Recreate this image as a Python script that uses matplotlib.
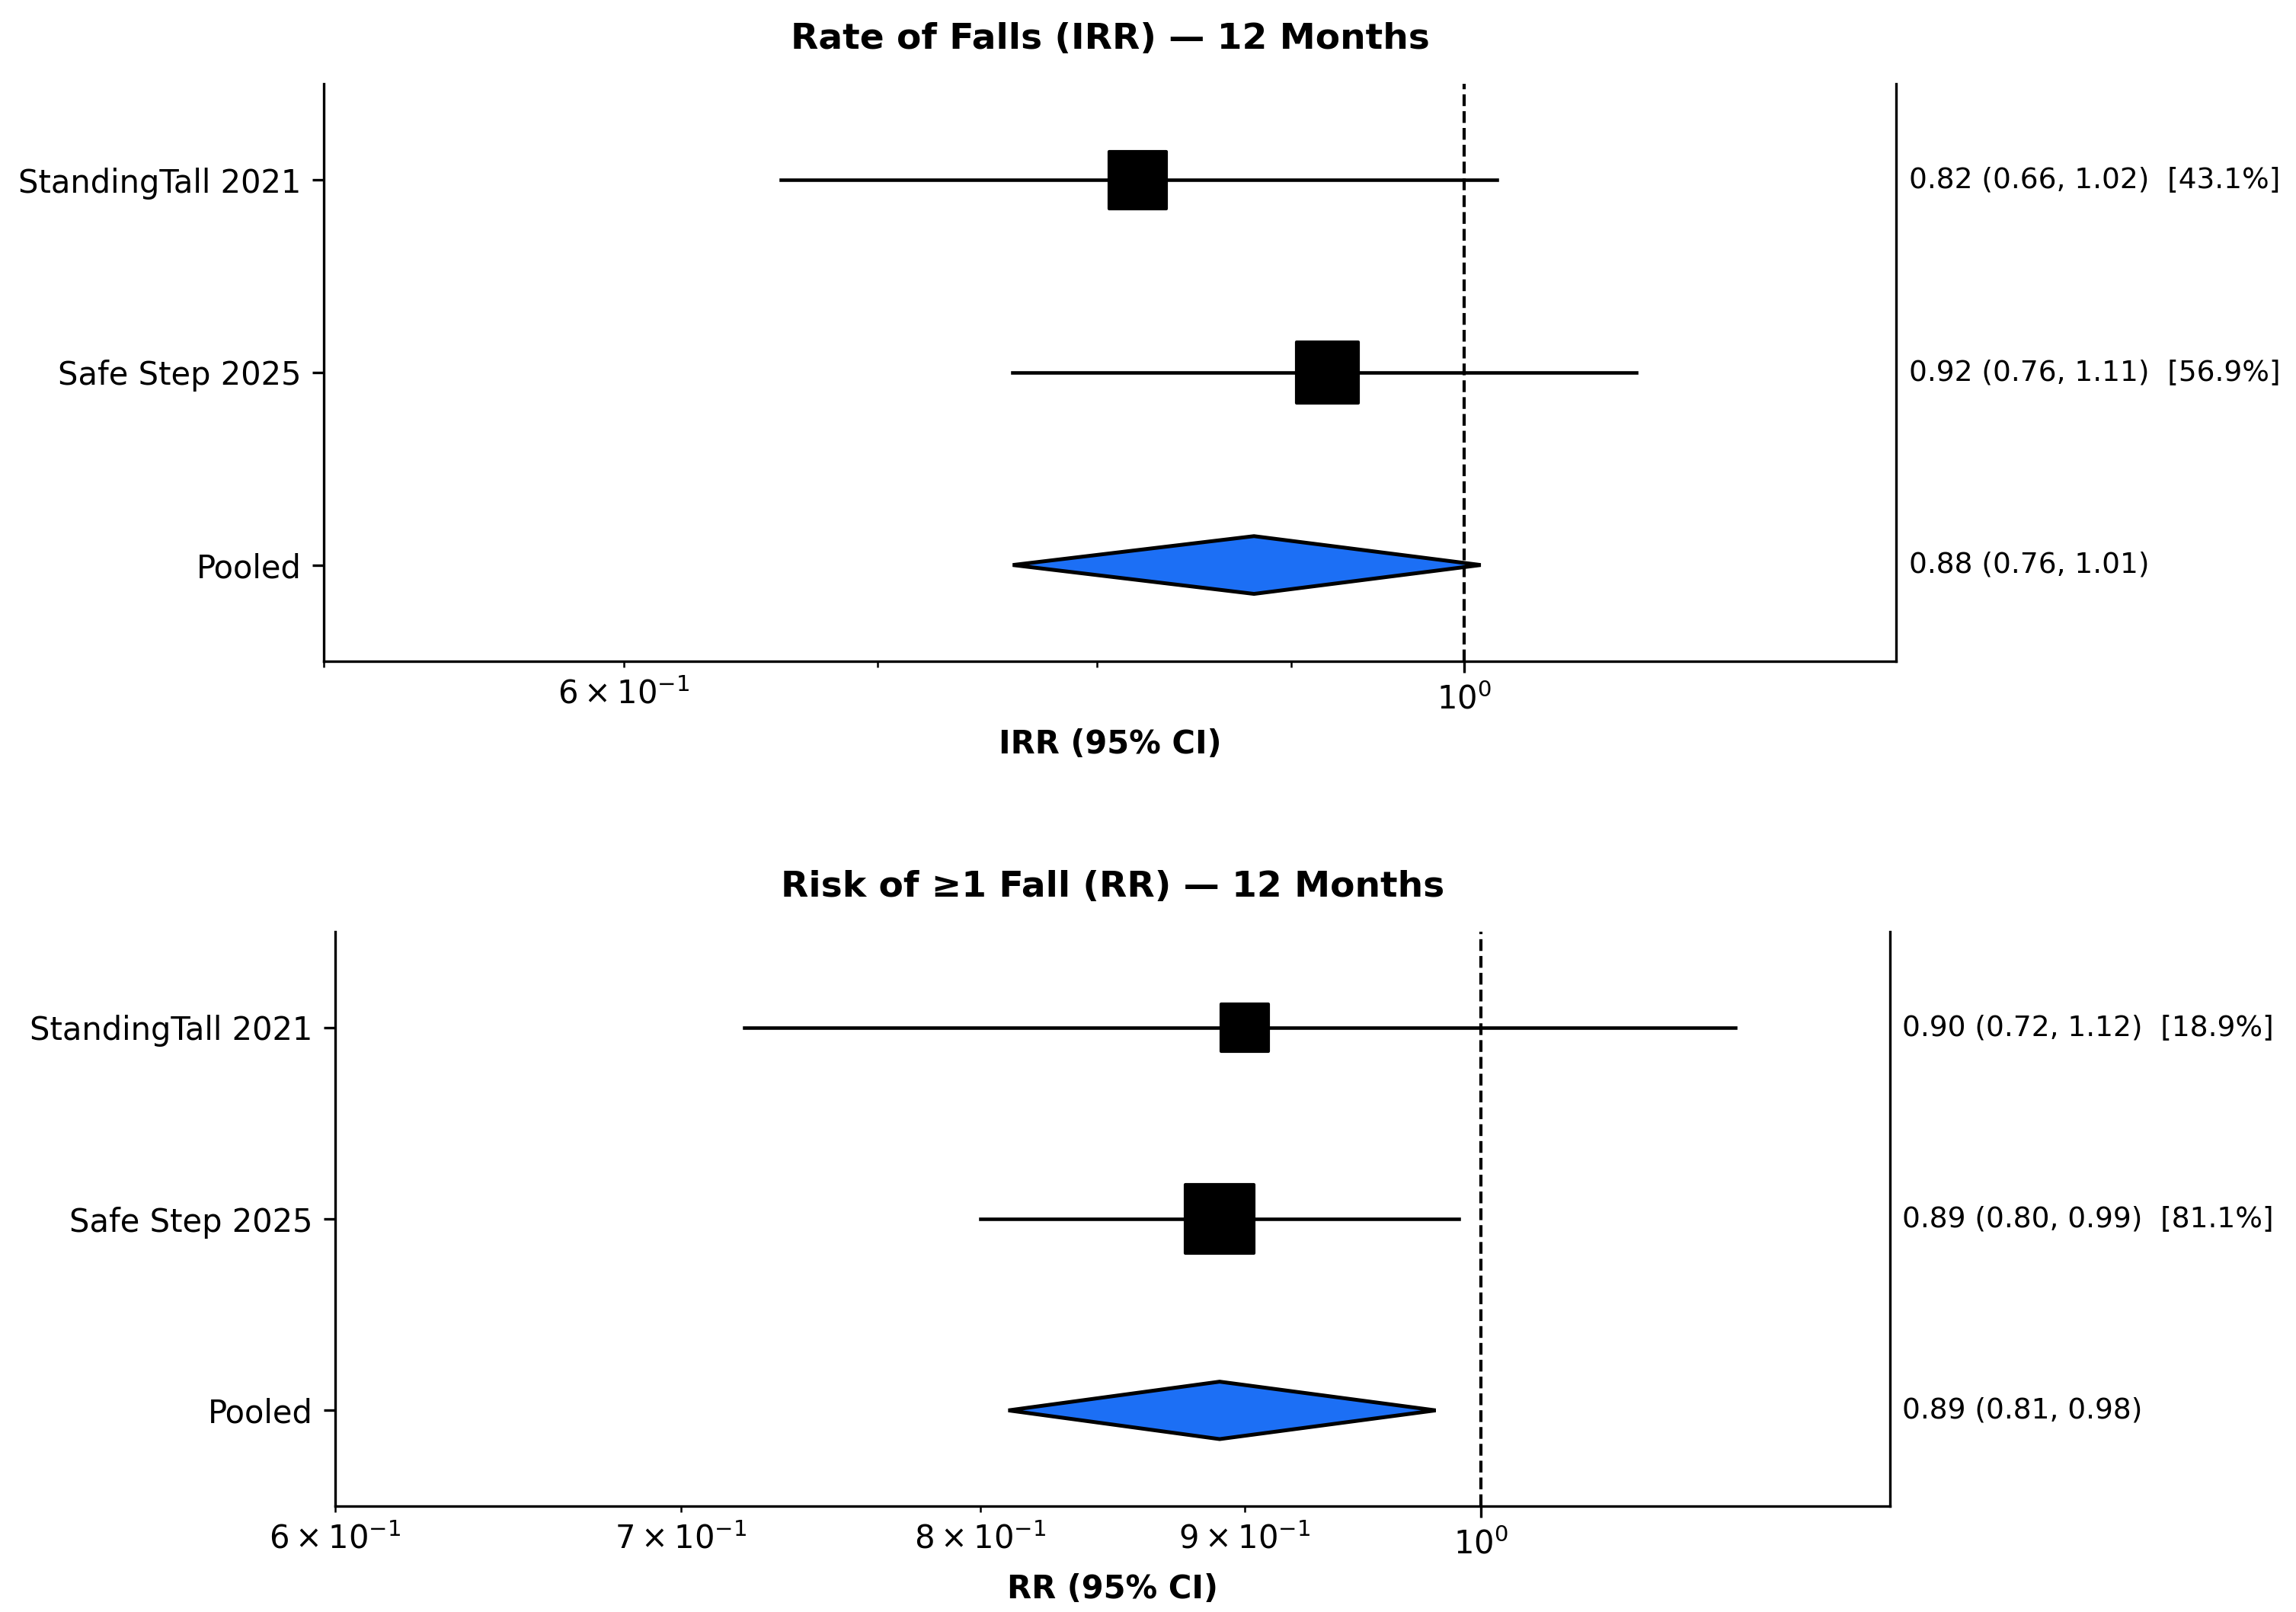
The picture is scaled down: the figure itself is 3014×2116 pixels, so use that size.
import numpy as np
import matplotlib
matplotlib.use("Agg")
import matplotlib.pyplot as plt
from matplotlib.patches import Polygon

plt.rcParams['font.family'] = ['DejaVu Sans']

# ---- data ----
studies = ["StandingTall 2021", "Safe Step 2025"]
pooled_label = "Pooled"

irr_est = [0.82, 0.92]
irr_lo = [0.66, 0.76]
irr_hi = [1.02, 1.11]
irr_wt = [43.1, 56.9]
irr_pooled = [0.88, 0.76, 1.01]

rr_est = [0.90, 0.89]
rr_lo = [0.72, 0.80]
rr_hi = [1.12, 0.99]
rr_wt = [18.9, 81.1]
rr_pooled = [0.89, 0.81, 0.98]

titles = ["Rate of Falls (IRR) \u2014 12 Months", "Risk of \u22651 Fall (RR) \u2014 12 Months"]
xlabels = ["IRR (95% CI)", "RR (95% CI)"]
xlims = [(0.5, 1.3), (0.6, 1.2)]

W, H = 3014, 2116
fig = plt.figure(figsize=(W / 300, H / 300), dpi=300)

# axes boxes in pixel coords: left, right, top, bottom
boxes = [(425, 2489, 110, 868), (440, 2481, 1223, 1977)]

panels = [
    (irr_est, irr_lo, irr_hi, irr_wt, irr_pooled),
    (rr_est, rr_lo, rr_hi, rr_wt, rr_pooled),
]

diamond_color = "#1c6ff5"

for i, (est, lo, hi, wt, pooled) in enumerate(panels):
    l, r, t, b = boxes[i]
    ax = fig.add_axes([l / W, 1 - b / H, (r - l) / W, (b - t) / H])
    ax.set_xscale('log')
    labels = studies + [pooled_label]
    ypos = np.arange(len(labels))

    for j in range(len(est)):
        ax.plot([lo[j], hi[j]], [ypos[j], ypos[j]], color='black', lw=1.1, zorder=2)
    sizes = [145 + 4.07 * w for w in wt]
    ax.scatter(est, ypos[:len(est)], marker='s', s=sizes, color='black', zorder=3)

    pe, pl, ph = pooled
    yp = ypos[-1]
    hh = 0.15
    poly = Polygon([[pl, yp], [pe, yp - hh], [ph, yp], [pe, yp + hh]], closed=True,
                   facecolor=diamond_color, edgecolor='black', lw=1.2, zorder=3)
    ax.add_patch(poly)

    ax.axvline(1.0, color='black', ls='--', lw=1.0, zorder=4)

    ax.set_xlim(*xlims[i])
    ax.set_ylim(len(labels) - 0.5, -0.5)
    ax.set_yticks(ypos)
    ax.set_yticklabels(labels, fontsize=10)
    ax.tick_params(axis='x', labelsize=10)
    ax.spines['top'].set_visible(False)

    ax.set_title(titles[i], fontsize=11.3, fontweight='bold', pad=11)
    ax.set_xlabel(xlabels[i], fontsize=10, fontweight='bold')

    for j in range(len(labels)):
        if j < len(est):
            txt = f"{est[j]:.2f} ({lo[j]:.2f}, {hi[j]:.2f})  [{wt[j]:.1f}%]"
        else:
            txt = f"{pe:.2f} ({pl:.2f}, {ph:.2f})"
        ax.text(1.008, ypos[j], txt, transform=ax.get_yaxis_transform(),
                ha='left', va='center', fontsize=9)

fig.savefig("out.png", dpi=300)
